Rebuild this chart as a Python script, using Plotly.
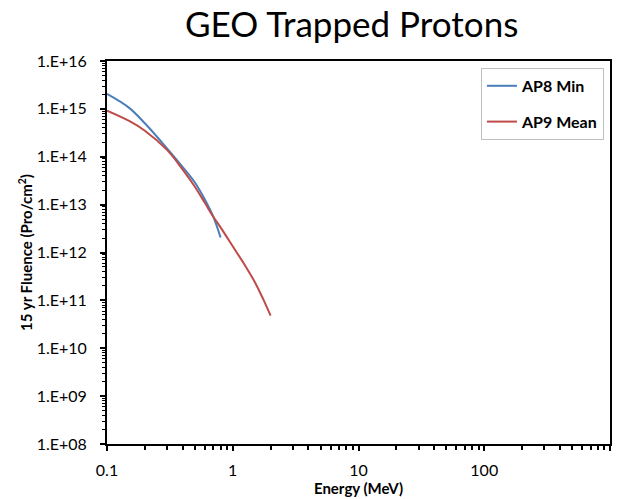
import plotly.graph_objects as go

# ---- data ----
ap8_energy = [0.1, 0.15, 0.2, 0.3, 0.4, 0.5, 0.6, 0.7, 0.8]
ap8_fluence = [2.05e15, 1.05e15, 5.0e14, 1.5e14, 6.1e13, 2.9e13, 1.28e13, 5.6e12, 2.05e12]

ap9_energy = [0.1, 0.15, 0.2, 0.3, 0.4, 0.5, 0.6, 0.7, 0.8, 1.0, 1.25, 1.5, 1.75, 2.0]
ap9_fluence = [9.2e14, 5.6e14, 3.5e14, 1.39e14, 5.4e13, 2.37e13, 1.09e13, 5.6e12,
               3.35e12, 1.35e12, 5.4e11, 2.4e11, 1.05e11, 4.8e10]

series_names = ["AP8 Min", "AP9 Mean"]

x_tick_vals = [0.1, 1, 10, 100, 1000]
x_tick_text = ["0.1", "1", "10", "100", "1000"]
y_tick_vals = [10.0 ** e for e in range(8, 17)]
y_tick_text = ["1.E+%02d" % e for e in range(8, 17)]

# minor tick positions (2..9 within each decade)
x_minor = [m * 10.0 ** d for d in range(-1, 3) for m in range(2, 10)]
y_minor = [m * 10.0 ** d for d in range(8, 16) for m in range(2, 10)]

FONT = "Lato, 'Open Sans', sans-serif"

fig = go.Figure()
fig.add_trace(go.Scatter(x=ap8_energy, y=ap8_fluence, mode="lines", name=series_names[0],
                         line=dict(color="#4A7EBB", width=2, shape="spline", smoothing=1.0),
                         legendgroup="a"))
fig.add_trace(go.Scatter(x=ap9_energy, y=ap9_fluence, mode="lines", name=series_names[1],
                         line=dict(color="#BE4B48", width=2, shape="spline", smoothing=1.0),
                         legendgroup="b"))

axis_common = dict(
    showline=True, linecolor="black", linewidth=2, mirror=True,
    showgrid=False, zeroline=False,
    ticks="outside", ticklen=5, tickwidth=1.5, tickcolor="black",
    tickfont=dict(family=FONT, size=16, color="black"),
)

fig.update_xaxes(
    type="log", range=[-1, 3],
    tickmode="array", tickvals=x_tick_vals, ticktext=x_tick_text,
    minor=dict(tickmode="array", tickvals=x_minor, ticks="outside", ticklen=4,
               tickwidth=1.5, tickcolor="black", showgrid=False),
    ticklabelstandoff=6,
    title=dict(text="<b>Energy (MeV)</b>", font=dict(family=FONT, size=15, color="black"),
               standoff=2),
    **axis_common,
)
fig.update_yaxes(
    type="log", range=[8, 16],
    tickmode="array", tickvals=y_tick_vals, ticktext=y_tick_text,
    minor=dict(tickmode="array", tickvals=y_minor, ticks="outside", ticklen=3,
               tickwidth=1, tickcolor="black", showgrid=False),
    ticklabelstandoff=10,
    title=dict(text="<b>15 yr Fluence (Pro/cm<sup>2</sup>)</b>",
               font=dict(family=FONT, size=15, color="black"), standoff=0),
    **axis_common,
)

fig.update_layout(
    width=628, height=499,
    margin=dict(l=107, r=18, t=61, b=55, autoexpand=False),
    paper_bgcolor="white", plot_bgcolor="white",
    title=dict(text="GEO Trapped Protons", x=0.56, xanchor="center", y=0.925, yanchor="bottom",
               font=dict(family=FONT, size=35, color="black")),
    legend=dict(x=0.988, xanchor="right", y=0.982, yanchor="top",
                bgcolor="white", bordercolor="#BFBFBF", borderwidth=1,
                font=dict(family=FONT, size=16, color="black", weight="bold"),
                traceorder="grouped", tracegroupgap=12),
    showlegend=True,
)

fig.write_html("out.html")
